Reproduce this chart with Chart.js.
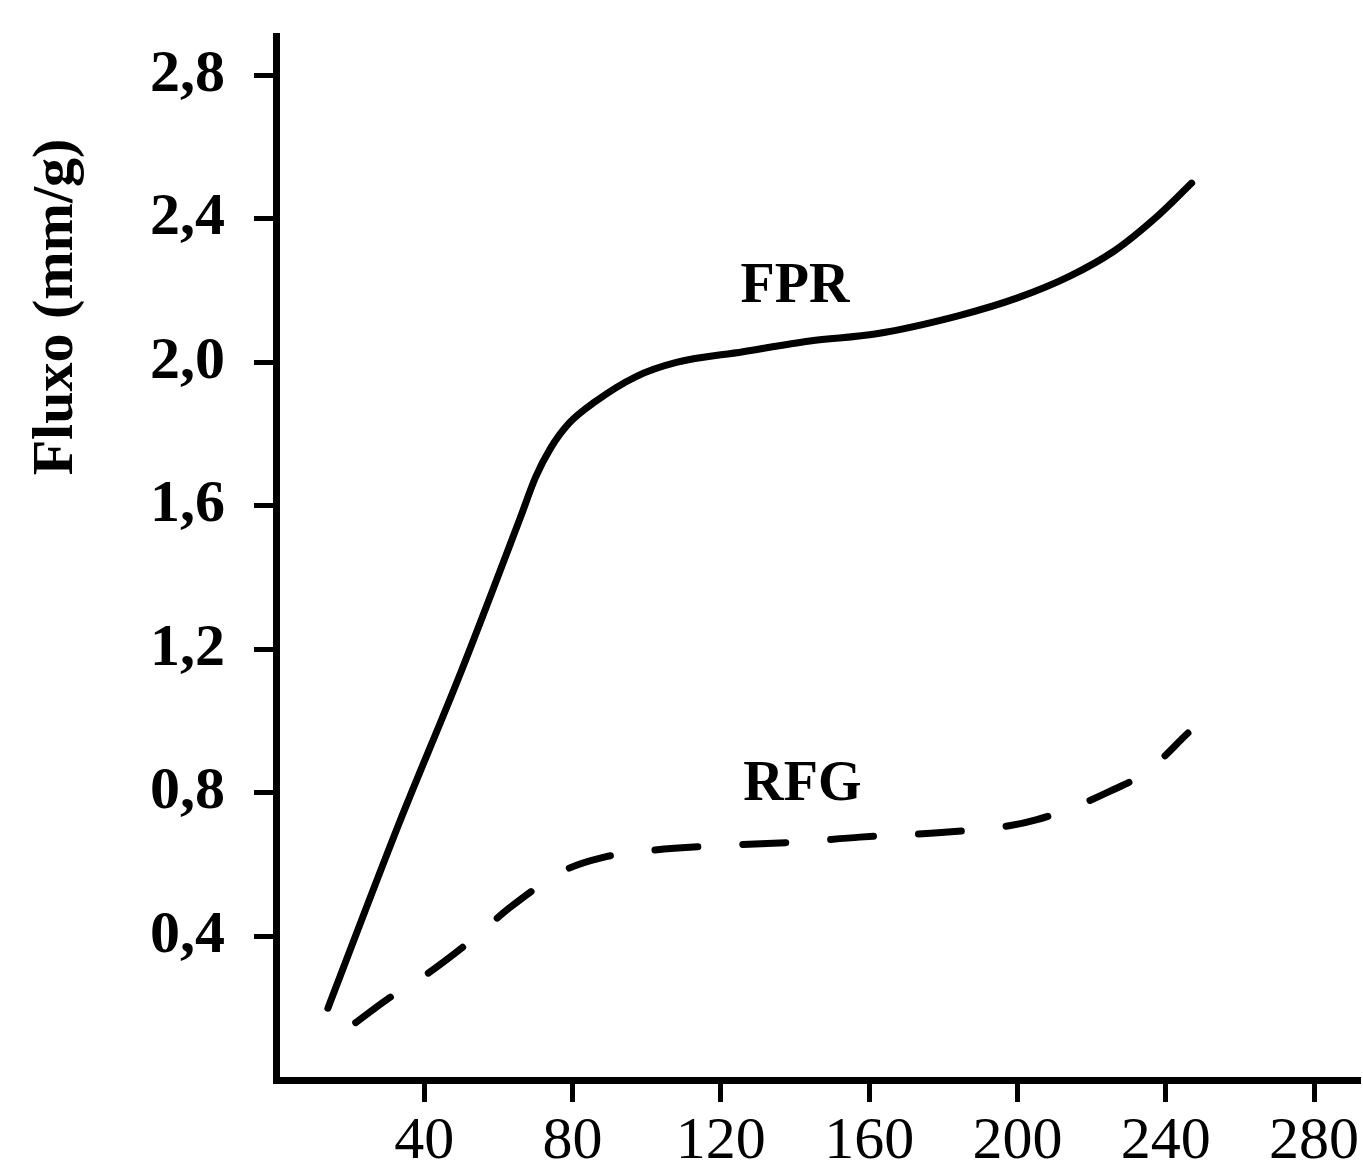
<!DOCTYPE html>
<html>
<head>
<meta charset="utf-8">
<script src="https://cdn.jsdelivr.net/npm/chart.js@4/dist/chart.umd.min.js"></script>
<style>
  html, body { margin: 0; padding: 0; background: #fff; }
  canvas { display: block; }
</style>
</head>
<body>
<canvas id="chart" width="1363" height="1162"></canvas>
<script>
// curves
const fprX = [14, 33, 50, 66, 70, 74, 79, 86, 97, 108, 126, 144, 162, 184, 200, 214, 226, 238, 247];
const fprY = [0.2, 0.71, 1.14, 1.57, 1.68, 1.76, 1.83, 1.89, 1.96, 2.0, 2.03, 2.06, 2.08, 2.13, 2.18, 2.24, 2.31, 2.41, 2.5];

const rfgX = [21.5, 30, 40, 54, 63, 78, 88, 101, 123, 140, 157.5, 179.5, 198.5, 205, 215, 225, 235, 246];
const rfgY = [0.16, 0.225, 0.29, 0.40, 0.48, 0.585, 0.62, 0.64, 0.655, 0.663, 0.677, 0.69, 0.71, 0.725, 0.76, 0.805, 0.86, 0.967];

const xTicks = [40, 80, 120, 160, 200, 240, 280];
const yTicks = [0.4, 0.8, 1.2, 1.6, 2.0, 2.4, 2.8];

const SERIF = "'Liberation Serif', 'DejaVu Serif', serif";

const toPoints = (xs, ys) => xs.map((x, i) => ({ x, y: ys[i] }));

const labels = {
  id: "labels",
  afterDraw(chart) {
    const { ctx, scales } = chart;
    ctx.save();
    ctx.fillStyle = "#000";
    ctx.textAlign = "center";
    ctx.textBaseline = "middle";

    ctx.font = "bold 56px " + SERIF;
    ctx.fillText("FPR", scales.x.getPixelForValue(140), scales.y.getPixelForValue(2.21));
    ctx.fillText("RFG", scales.x.getPixelForValue(142), scales.y.getPixelForValue(0.82));

    ctx.translate(57, 307);
    ctx.rotate(-Math.PI / 2);
    ctx.font = "bold 58px " + SERIF;
    ctx.fillText("Fluxo (mm/g)", 0, 0);
    ctx.restore();
  },
};

new Chart(document.getElementById("chart"), {
  type: "line",
  data: {
    datasets: [
      {
        label: "FPR",
        data: toPoints(fprX, fprY),
        borderColor: "#000",
        borderWidth: 7,
        pointRadius: 0,
        cubicInterpolationMode: "monotone",
        borderCapStyle: "round",
      },
      {
        label: "RFG",
        data: toPoints(rfgX, rfgY),
        borderColor: "#000",
        borderWidth: 7,
        borderDash: [43, 45],
        pointRadius: 0,
        cubicInterpolationMode: "monotone",
        borderCapStyle: "round",
      },
    ],
  },
  options: {
    responsive: false,
    animation: false,
    layout: { padding: { top: 36, right: 0, left: 0, bottom: 0 } },
    plugins: {
      legend: { display: false },
      tooltip: { enabled: false },
    },
    scales: {
      x: {
        type: "linear",
        min: 0,
        max: 292,
        afterFit: (s) => { s.height = 82; },
        afterBuildTicks: (s) => { s.ticks = xTicks.map((v) => ({ value: v })); },
        border: { display: true, color: "#000", width: 7 },
        grid: { drawOnChartArea: false, color: "#000", lineWidth: 5, tickLength: 22 },
        ticks: {
          color: "#000",
          padding: 4,
          maxRotation: 0,
          font: { family: SERIF, size: 60 },
          callback: (v) => String(v),
        },
      },
      y: {
        min: 0,
        max: 2.91,
        afterFit: (s) => { s.width = 276; },
        afterBuildTicks: (s) => { s.ticks = yTicks.map((v) => ({ value: v })); },
        border: { display: true, color: "#000", width: 7 },
        grid: { drawOnChartArea: false, color: "#000", lineWidth: 5, tickLength: 22 },
        ticks: {
          color: "#000",
          padding: 29,
          font: { family: SERIF, size: 60, weight: "bold", lineHeight: 0.2 },
          callback: (v) => v.toFixed(1).replace(".", ","),
        },
      },
    },
  },
  plugins: [labels],
});
</script>
</body>
</html>
